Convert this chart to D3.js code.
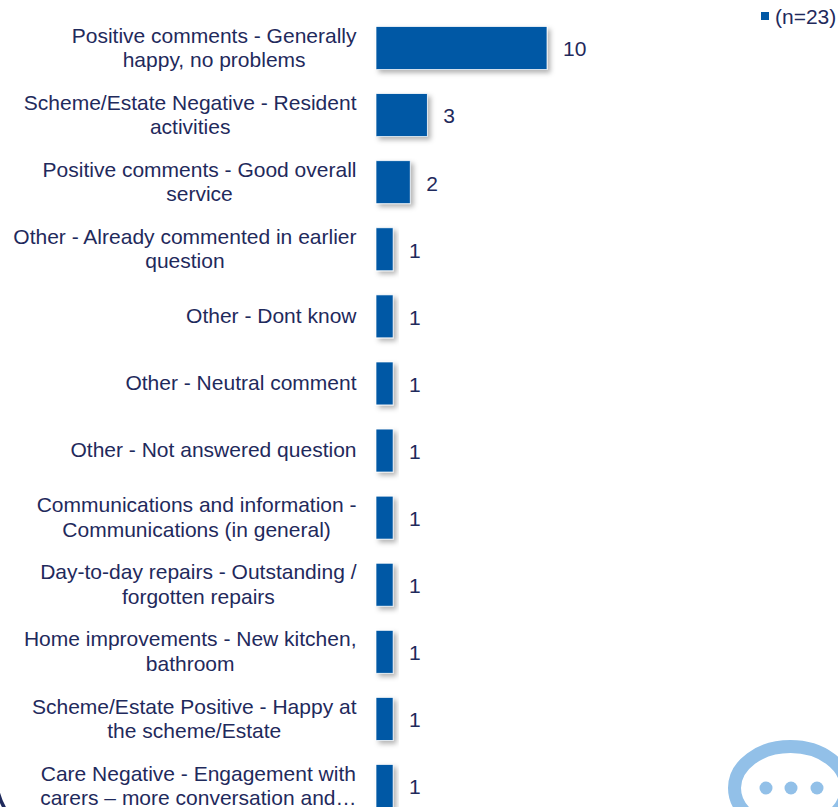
<!DOCTYPE html>
<meta charset="utf-8">
<style type="text/css">
    html, body{
      margin: 0;
      padding: 0;
      background: #fff;
      overflow: hidden;
    }
    svg{
      display: block;
    }
    text {
      font-family: "Liberation Sans", Arial, sans-serif;
      font-size: 21px;
      fill: #1f2a5c;
    }
</style>
<body>
<script src="https://cdnjs.cloudflare.com/ajax/libs/d3/7.8.5/d3.min.js"></script>
<script>
// one entry per bar, label lines are split where the chart wraps them
var labels = [
  ["Positive comments - Generally", "happy, no problems"],
  ["Scheme/Estate Negative - Resident", "activities"],
  ["Positive comments - Good overall", "service"],
  ["Other - Already commented in earlier", "question"],
  ["Other - Dont know"],
  ["Other - Neutral comment"],
  ["Other - Not answered question"],
  ["Communications and information -", "Communications (in general)"],
  ["Day-to-day repairs - Outstanding /", "forgotten repairs"],
  ["Home improvements - New kitchen,", "bathroom"],
  ["Scheme/Estate Positive - Happy at", "the scheme/Estate"],
  ["Care Negative - Engagement with", "carers \u2013 more conversation and\u2026"]
];
var values = [10, 3, 2, 1, 1, 1, 1, 1, 1, 1, 1, 1];
var seriesName = "(n=23)";

var width = 838, height = 807;
var barColor = "#0058a5", textColor = "#1f2a5c", iconColor = "#92c0e8";

var svg = d3.select("body").append("svg")
  .attr("width", width)
  .attr("height", height);

// soft shadow down and to the right of the bars
var shadow = svg.append("defs").append("filter")
  .attr("id", "barShadow")
  .attr("x", "-20%").attr("y", "-20%")
  .attr("width", "150%").attr("height", "150%");
shadow.append("feDropShadow")
  .attr("dx", 3).attr("dy", 3)
  .attr("stdDeviation", 2.5)
  .attr("flood-color", "#000")
  .attr("flood-opacity", 0.3);

var x = d3.scaleLinear().domain([0, 10]).range([376, 547]);
var y = d3.scaleBand()
  .domain(d3.range(labels.length))
  .range([14.5, 819.5])
  .paddingInner(0.36)
  .paddingOuter(0.18);

// speech bubble decoration, bottom right, cut by the window
var icon = svg.append("g");
icon.append("ellipse")
  .attr("cx", 790.5).attr("cy", 788)
  .attr("rx", 56).attr("ry", 41.5)
  .attr("fill", "none")
  .attr("stroke", iconColor)
  .attr("stroke-width", 13);
icon.selectAll("circle.dot")
  .data([766, 791, 817])
  .enter().append("circle")
  .attr("class", "dot")
  .attr("cx", function(d){ return d; })
  .attr("cy", 788)
  .attr("r", 6.5)
  .attr("fill", iconColor);

// corner of the dark page decoration, bottom left
svg.append("path")
  .attr("d", "M-2,792 Q0,800 5,809")
  .attr("fill", "none")
  .attr("stroke", textColor)
  .attr("stroke-width", 3.5);

var rows = svg.selectAll("g.row")
  .data(values)
  .enter().append("g")
  .attr("class", "row");

rows.append("rect")
  .attr("x", x(0))
  .attr("y", function(d, i){ return y(i); })
  .attr("width", function(d){ return x(d) - x(0); })
  .attr("height", y.bandwidth())
  .attr("fill", barColor)
  .attr("stroke", "#fff")
  .attr("stroke-width", 0.7)
  .attr("filter", "url(#barShadow)");

rows.append("text")
  .attr("x", function(d){ return x(d) + 16; })
  .attr("y", function(d, i){ return y(i) + y.bandwidth() / 2 + 1; })
  .attr("dy", "0.35em")
  .text(function(d){ return d; });

// category labels, centred under their longest line and right aligned as a block
rows.append("text")
  .each(function(d, i){
    var t = d3.select(this);
    var lines = labels[i];
    var mid = y(i) + y.bandwidth() / 2;
    t.selectAll("tspan")
      .data(lines)
      .enter().append("tspan")
      .attr("y", function(l, k){ return mid + (k - (lines.length - 1) / 2) * 24.5; })
      .attr("dy", "0.33em")
      .text(function(l){ return l; });
    var longest = 0;
    t.selectAll("tspan").each(function(){
      longest = Math.max(longest, this.getComputedTextLength());
    });
    t.selectAll("tspan")
      .attr("text-anchor", "middle")
      .attr("x", 356.5 - longest / 2);
  });

// legend
svg.append("rect")
  .attr("x", 761).attr("y", 12)
  .attr("width", 8).attr("height", 8)
  .attr("fill", barColor);
svg.append("text")
  .attr("x", 775).attr("y", 17)
  .attr("dy", "0.35em")
  .text(seriesName);
</script>
</body>
